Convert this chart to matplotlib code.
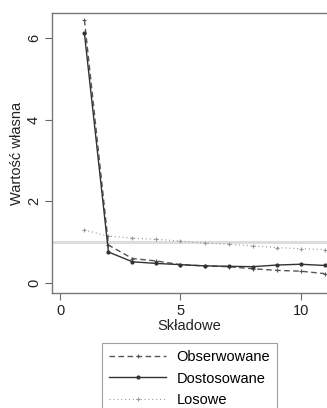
import matplotlib
matplotlib.use("Agg")
import matplotlib.pyplot as plt

components = [1, 2, 3, 4, 5, 6, 7, 8, 9, 10, 11]
observed = [6.45, 0.93, 0.60, 0.54, 0.45, 0.42, 0.40, 0.35, 0.31, 0.29, 0.23]
adjusted = [6.12, 0.76, 0.52, 0.48, 0.45, 0.42, 0.41, 0.40, 0.44, 0.46, 0.43]
random_ev = [1.30, 1.15, 1.10, 1.07, 1.03, 0.98, 0.95, 0.91, 0.87, 0.84, 0.82]
xticks = [0, 5, 10]
yticks = [0, 2, 4, 6]
labels = ["Obserwowane", "Dostosowane", "Losowe"]

plt.rcParams['font.family'] = ['Liberation Sans', 'DejaVu Sans']

W, H = 327, 408
fig = plt.figure(figsize=(W / 100, H / 100), dpi=100)
ax = fig.add_axes([52 / W, (H - 293) / H, (W - 52) / W, (293 - 13) / H])

ax.axhline(1.0, color="#dddddd", lw=2.2, zorder=1)
l1, = ax.plot(components, observed, color="#555555", lw=1.0, ls=(0, (4, 2.5)),
              marker="+", ms=3, mew=0.8, zorder=3)
l2, = ax.plot(components, adjusted, color="#333333", lw=1.0, ls="-",
              marker="o", ms=2, zorder=4)
l3, = ax.plot(components, random_ev, color="#999999", lw=0.8, ls=(0, (1, 2.5)),
              marker="+", ms=3, mew=0.8, zorder=2)

ax.set_xlim(-0.35, 11.1)
ax.set_ylim(-0.245, 6.62)
ax.set_xticks(xticks)
ax.set_yticks(yticks)
ax.tick_params(axis="both", labelsize=10.5, length=5, width=0.8, color="#666666",
               labelcolor="#222222", pad=3)
for lab in ax.get_yticklabels():
    lab.set_rotation(90)
    lab.set_va("center")
for s in ["left", "top", "bottom"]:
    ax.spines[s].set_color("#777777")
    ax.spines[s].set_linewidth(1.0)
ax.spines["right"].set_visible(False)

ax.set_xlabel("Składowe", fontsize=10.5, color="#222222", labelpad=1)
ax.set_ylabel("Wartość własna", fontsize=10.5, color="#222222", labelpad=2)

leg = fig.legend([l1, l2, l3], labels, loc="upper left",
                 bbox_to_anchor=(102 / W, 1 - 343 / H), borderaxespad=0,
                 fontsize=10.5, handlelength=3.9, handletextpad=0.7,
                 labelspacing=0.5, borderpad=0.5, fancybox=False,
                 edgecolor="#888888", frameon=True)
leg.get_frame().set_linewidth(0.8)

fig.savefig("out.png", dpi=100)
